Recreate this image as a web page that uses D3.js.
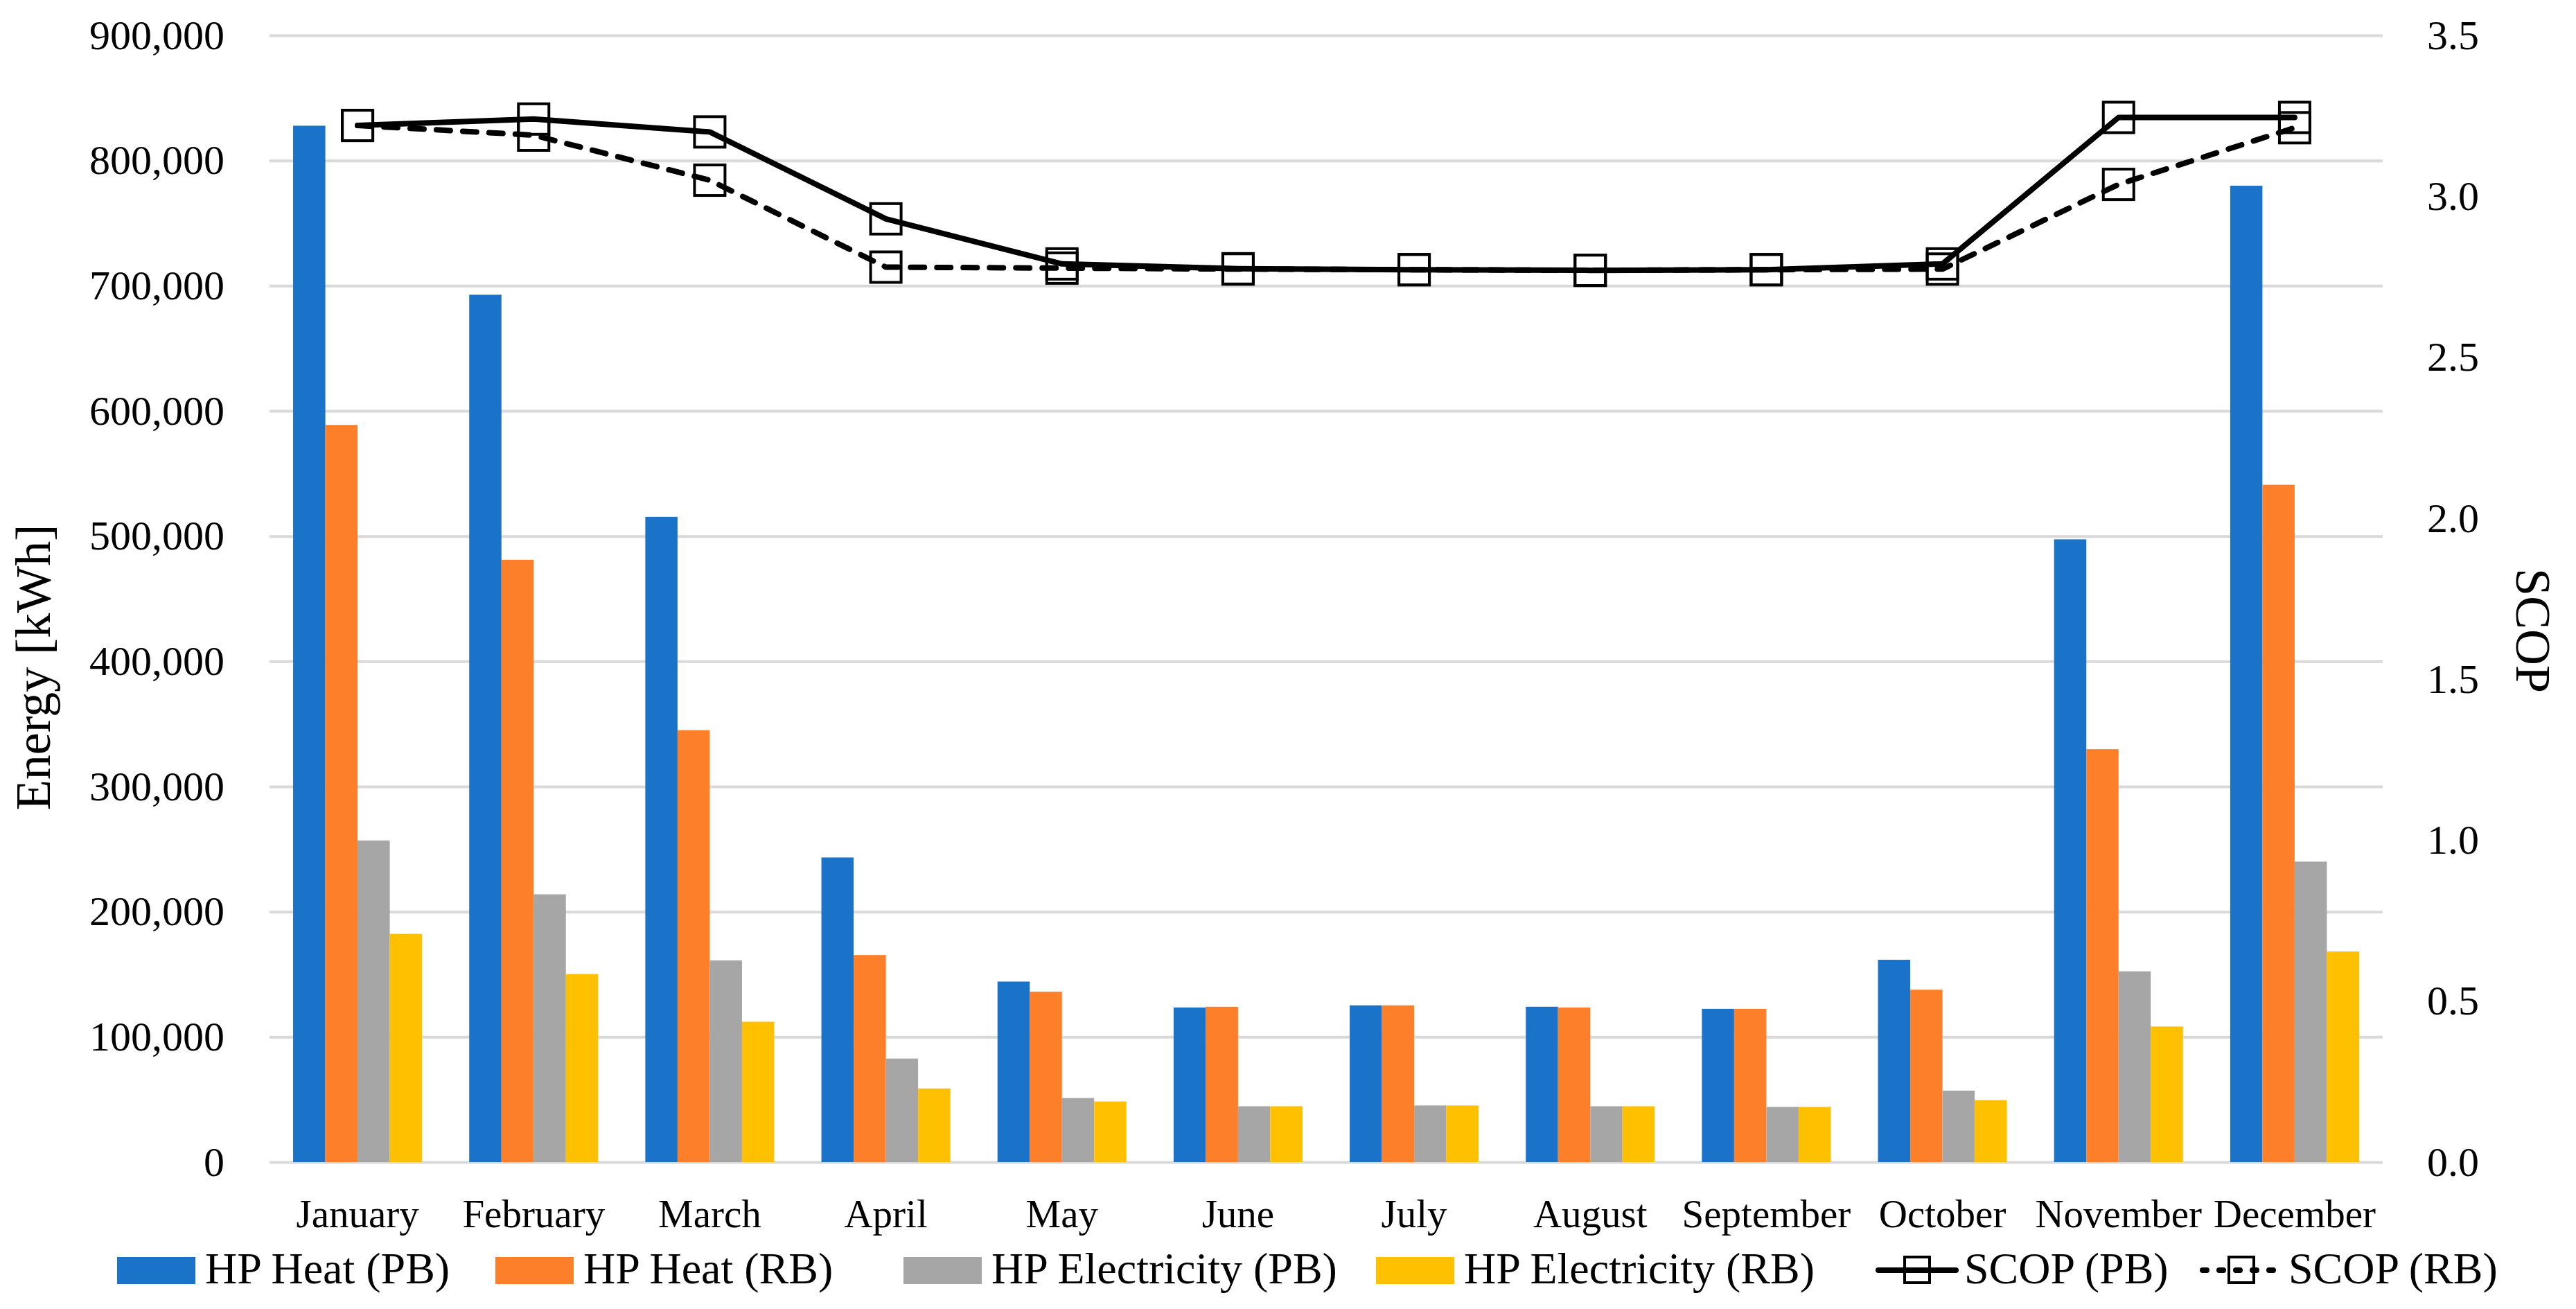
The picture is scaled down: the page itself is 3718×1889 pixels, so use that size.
<!DOCTYPE html>
<html>
<head>
<meta charset="utf-8">
<script src="https://cdnjs.cloudflare.com/ajax/libs/d3/7.8.5/d3.min.js"></script>
<style>
  body { margin: 0; background: #fff; }
  text { font-family: "Liberation Serif", "Times New Roman", serif; fill: #000; }
</style>
</head>
<body>
<script>
const months = ["January", "February", "March", "April", "May", "June",
                "July", "August", "September", "October", "November", "December"];

const heatPB = [827800, 692800, 515400, 243300, 144200, 123500, 125200, 124100, 122400, 161600, 497400, 779900];
const heatRB = [588800, 481100, 345000, 165400, 136100, 124100, 125200, 123500, 122400, 137700, 329800, 541000];
const elecPB = [256900, 213900, 161100, 82700, 51200, 44600, 45200, 44600, 44100, 57100, 152400, 240000];
const elecRB = [182300, 150200, 112100, 58800, 48400, 44600, 45200, 44600, 44100, 49500, 108300, 168200];

const scopPB = [3.22, 3.24, 3.20, 2.93, 2.79, 2.775, 2.772, 2.770, 2.772, 2.79, 3.245, 3.245];
const scopRB = [3.22, 3.19, 3.05, 2.78, 2.777, 2.774, 2.772, 2.770, 2.772, 2.774, 3.037, 3.213];

const barNames = ["HP Heat (PB)", "HP Heat (RB)", "HP Electricity (PB)", "HP Electricity (RB)"];
const barSeries = [heatPB, heatRB, elecPB, elecRB];
const barColors = ["#1a73c8", "#fe7f2a", "#a6a6a6", "#ffc000"];
const lineNames = ["SCOP (PB)", "SCOP (RB)"];

const energyTicks = [0, 100000, 200000, 300000, 400000, 500000, 600000, 700000, 800000, 900000];
const scopTicks = [0, 0.5, 1.0, 1.5, 2.0, 2.5, 3.0, 3.5];

const W = 3718, H = 1889;
const pLeft = 389, pRight = 3439, pTop = 51, pBottom = 1677;

const svg = d3.select("body").append("svg").attr("width", W).attr("height", H);

const x0 = d3.scaleBand().domain(months).range([pLeft, pRight])
  .paddingInner(0.268).paddingOuter(0.134);
const x1 = d3.scaleBand().domain(barNames).range([0, x0.bandwidth()]);
const y = d3.scaleLinear().domain([0, 900000]).range([pBottom, pTop]);
const y2 = d3.scaleLinear().domain([0, 3.5]).range([pBottom, pTop]);

// gridlines
svg.append("g")
  .attr("transform", `translate(${pLeft},0)`)
  .call(d3.axisLeft(y).tickValues(energyTicks).tickSize(-(pRight - pLeft)).tickFormat(""))
  .call(g => g.select(".domain").remove())
  .call(g => g.selectAll("line").attr("stroke", "#d9d9d9").attr("stroke-width", 4));

// bars
const groups = svg.append("g").selectAll("g")
  .data(months)
  .enter().append("g")
  .attr("transform", d => `translate(${x0(d)},0)`);

groups.selectAll("rect")
  .data((m, i) => barSeries.map((s, k) => ({ name: barNames[k], value: s[i], color: barColors[k] })))
  .enter().append("rect")
  .attr("x", d => x1(d.name))
  .attr("width", x1.bandwidth())
  .attr("y", d => y(d.value))
  .attr("height", d => y(0) - y(d.value))
  .attr("fill", d => d.color);

// left axis labels
svg.append("g")
  .attr("transform", `translate(${pLeft},0)`)
  .call(d3.axisLeft(y).tickValues(energyTicks).tickSize(0).tickPadding(65).tickFormat(d3.format(",")))
  .call(g => g.select(".domain").remove())
  .call(g => g.attr("font-family", null).attr("font-size", null))
  .selectAll("text").attr("font-size", 60);

// right axis labels
svg.append("g")
  .attr("transform", `translate(${pRight},0)`)
  .call(d3.axisRight(y2).tickValues(scopTicks).tickSize(0).tickPadding(64).tickFormat(d3.format(".1f")))
  .call(g => g.select(".domain").remove())
  .call(g => g.attr("font-family", null).attr("font-size", null))
  .selectAll("text").attr("font-size", 60);

// x axis labels
svg.append("g")
  .attr("transform", `translate(0,${pBottom})`)
  .call(d3.axisBottom(x0).tickSize(0))
  .call(g => g.select(".domain").remove())
  .call(g => g.attr("font-family", null).attr("font-size", null))
  .selectAll("text").attr("font-size", 57)
  .attr("y", 94).attr("dy", 0);

// axis titles
svg.append("text")
  .attr("transform", "translate(72,963) rotate(-90)")
  .attr("text-anchor", "middle")
  .attr("font-size", 72)
  .text("Energy [kWh]");

svg.append("text")
  .attr("transform", "translate(3632,910) rotate(90)")
  .attr("text-anchor", "middle")
  .attr("font-size", 72)
  .text("SCOP");

// SCOP lines
const xc = m => x0(m) + x0.bandwidth() / 2;
const line = d3.line().x((d, i) => xc(months[i])).y(d => y2(d));
const lineStyles = [null, "20,18"];

[scopPB, scopRB].forEach((s, k) => {
  svg.append("path")
    .datum(s)
    .attr("d", line)
    .attr("fill", "none")
    .attr("stroke", "#000")
    .attr("stroke-width", 8)
    .attr("stroke-linecap", "round")
    .attr("stroke-linejoin", "round")
    .attr("stroke-dasharray", lineStyles[k]);

  svg.append("g").selectAll("rect")
    .data(s)
    .enter().append("rect")
    .attr("x", (d, i) => xc(months[i]) - 22)
    .attr("y", d => y2(d) - 22)
    .attr("width", 44)
    .attr("height", 44)
    .attr("fill", "none")
    .attr("stroke", "#000")
    .attr("stroke-width", 4);
});

// legend
const legY = 1833;
const barLegX = [169, 715, 1304, 1986];
barNames.forEach((n, k) => {
  svg.append("rect")
    .attr("x", barLegX[k]).attr("y", legY - 19)
    .attr("width", 113).attr("height", 39)
    .attr("fill", barColors[k]);
  svg.append("text")
    .attr("x", barLegX[k] + 127).attr("y", 1852)
    .attr("font-size", 64)
    .text(n);
});

const lineLegX = [2707, 3175];
lineNames.forEach((n, k) => {
  svg.append("line")
    .attr("x1", lineLegX[k] + 4).attr("x2", lineLegX[k] + 116)
    .attr("y1", legY).attr("y2", legY)
    .attr("stroke", "#000")
    .attr("stroke-width", 8)
    .attr("stroke-linecap", "round")
    .attr("stroke-dasharray", lineStyles[k] ? "6,18" : null);
  svg.append("rect")
    .attr("x", lineLegX[k] + 60 - 18).attr("y", legY - 19)
    .attr("width", 36).attr("height", 37)
    .attr("fill", "none")
    .attr("stroke", "#000")
    .attr("stroke-width", 4);
  svg.append("text")
    .attr("x", lineLegX[k] + 128).attr("y", 1852)
    .attr("font-size", 64)
    .text(n);
});
</script>
</body>
</html>
